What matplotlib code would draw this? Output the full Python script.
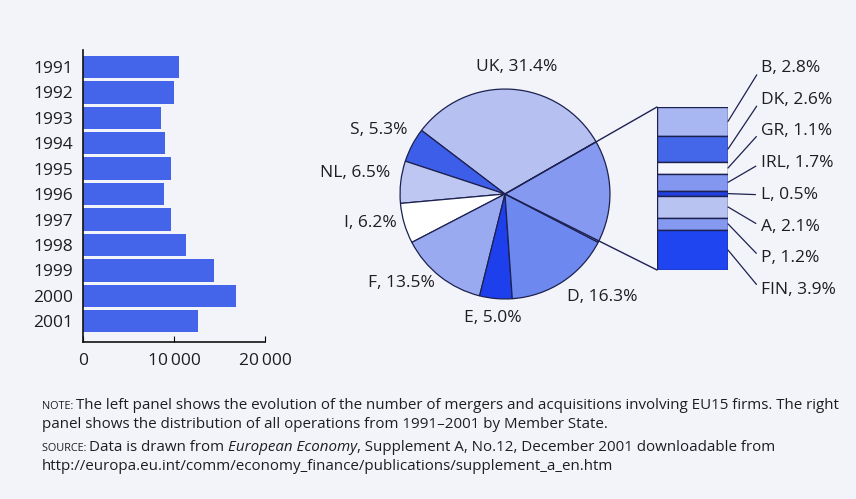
import numpy as np
import matplotlib
matplotlib.use('Agg')
import matplotlib.pyplot as plt
from matplotlib.patches import ConnectionPatch

W, H = 856, 499
plt.rcParams['font.family'] = ['Open Sans', 'DejaVu Sans']

# left panel: number of M&A operations per year
years = ['1991', '1992', '1993', '1994', '1995', '1996',
         '1997', '1998', '1999', '2000', '2001']
mergers = [10500, 10000, 8600, 9000, 9700, 8900, 9700, 11300, 14400, 16800, 12600]

# right panel: share by Member State, 1991-2001
pie_labels = ['UK', 'S', 'NL', 'I', 'F', 'E', 'D']
pie_shares = [31.4, 5.3, 6.5, 6.2, 13.5, 5.0, 16.3]
other_labels = ['B', 'DK', 'GR', 'IRL', 'L', 'A', 'P', 'FIN']
other_shares = [2.8, 2.6, 1.1, 1.7, 0.5, 2.1, 1.2, 3.9]

pie_colors = ['#b6c1f2', '#3d5ee8', '#bdc7f2', '#ffffff', '#9aaaf0', '#1e3fec', '#6d88ee', '#8699f0']
other_colors = ['#a8b6f2', '#4466e8', '#f6f7fc', '#8497f0', '#2040e0', '#b8c3f2', '#8599f0', '#1f45f0']
edge = '#1c2150'
txt = '#1e1e22'


def fx(px):
    return px / W


def fy(py):
    return 1 - py / H


fig = plt.figure(figsize=(W / 100, H / 100), dpi=100, facecolor='#f3f4f9')

# bar chart
ax_bar = fig.add_axes([fx(83), fy(342), (265 - 83) / W, (342 - 50) / H])
ax_bar.set_facecolor('none')
pos = np.arange(len(years))
ax_bar.barh(pos, mergers, height=0.88, color='#4465ea')
ax_bar.set_xlim(0, 20000)
ax_bar.set_ylim(len(years) - 1 + 0.82, -0.67)
ax_bar.set_yticks(pos, years)
ax_bar.set_xticks([0, 10000, 20000], ['0', '10\u2009000', '20\u2009000'])
for s in ['top', 'right']:
    ax_bar.spines[s].set_visible(False)
for s in ['left', 'bottom']:
    ax_bar.spines[s].set_color('#111111')
    ax_bar.spines[s].set_linewidth(1.2)
ax_bar.tick_params(axis='y', length=0, pad=7, labelsize=12.5, labelcolor=txt)
ax_bar.tick_params(axis='x', direction='in', length=4, pad=8, labelsize=12.5, labelcolor=txt)

# pie + stacked bar of the small countries
ax_pie = fig.add_axes([fx(505 - 106), fy(194 + 106), 212 / W, 212 / H])
ax_st = fig.add_axes([fx(657), fy(270), 71 / W, 163 / H])

pb = ax_pie.get_position()
sb = ax_st.get_position()
cx, cy = (pb.x0 + pb.x1) / 2 * W, (pb.y0 + pb.y1) / 2 * H
start = np.degrees(np.arctan2(sb.y1 * H - cy, sb.x0 * W - cx))

total_other = sum(other_shares)
ax_pie.pie(pie_shares + [total_other], colors=pie_colors, startangle=start,
           counterclock=True, wedgeprops=dict(edgecolor=edge, linewidth=0.9))
ax_pie.set_xlim(-1.01, 1.01)
ax_pie.set_ylim(-1.01, 1.01)

bottoms = np.cumsum([0] + other_shares[:-1])
ax_st.bar([0] * len(other_shares), other_shares, bottom=bottoms, width=1,
          color=other_colors, edgecolor=edge, linewidth=1)
ax_st.set_xlim(-0.5, 0.5)
ax_st.set_ylim(total_other, 0)
ax_st.axis('off')

for yb in [0, total_other]:
    con = ConnectionPatch(xyA=(0, 0), coordsA=ax_pie.transData,
                          xyB=(-0.5, yb), coordsB=ax_st.transData,
                          color=edge, linewidth=1)
    fig.add_artist(con)

# labels
pie_label_pos = [(517, 67, 'center'), (407, 130, 'right'), (390, 173, 'right'),
                 (397, 223, 'right'), (435, 283, 'right'), (493, 318, 'center'),
                 (602, 297, 'center')]
for lab, v, (px, py, ha) in zip(pie_labels, pie_shares, pie_label_pos):
    fig.text(fx(px), fy(py), f'{lab}, {v:.1f}%', ha=ha, va='center',
             fontsize=12.5, color=txt)

for i, (lab, v) in enumerate(zip(other_labels, other_shares)):
    mid = bottoms[i] + v / 2
    ax_st.annotate(f'{lab}, {v:.1f}%', xy=(0.5, mid), xycoords='data',
                   xytext=(fx(761), fy(68 + 31.7 * i)), textcoords='figure fraction',
                   ha='left', va='center', fontsize=12.5, color=txt,
                   arrowprops=dict(arrowstyle='-', color=edge, lw=0.9,
                                   relpos=(0, 0.5), shrinkA=2, shrinkB=0),
                   annotation_clip=False)

# notes under the chart
renderer = fig.canvas.get_renderer()


def runs(x, y, parts):
    for s, size, style in parts:
        t = fig.text(fx(x), fy(y), s, fontsize=size, style=style,
                     va='baseline', ha='left', color=txt)
        x = t.get_window_extent(renderer).x1


body = 10.9
runs(42, 409, [('NOTE: ', 7.8, 'normal'),
               ('The left panel shows the evolution of the number of mergers and '
                'acquisitions involving EU15 firms. The right', body, 'normal')])
runs(42, 428, [('panel shows the distribution of all operations from 1991\u20132001 '
                'by Member State.', body, 'normal')])
runs(42, 451, [('SOURCE: ', 7.8, 'normal'), ('Data is drawn from ', body, 'normal'),
               ('European Economy', body, 'italic'),
               (', Supplement A, No.12, December 2001 downloadable from', body, 'normal')])
runs(42, 470, [('http://europa.eu.int/comm/economy_finance/publications/'
                'supplement_a_en.htm', body, 'normal')])

fig.savefig('out.png', dpi=100, facecolor=fig.get_facecolor())
